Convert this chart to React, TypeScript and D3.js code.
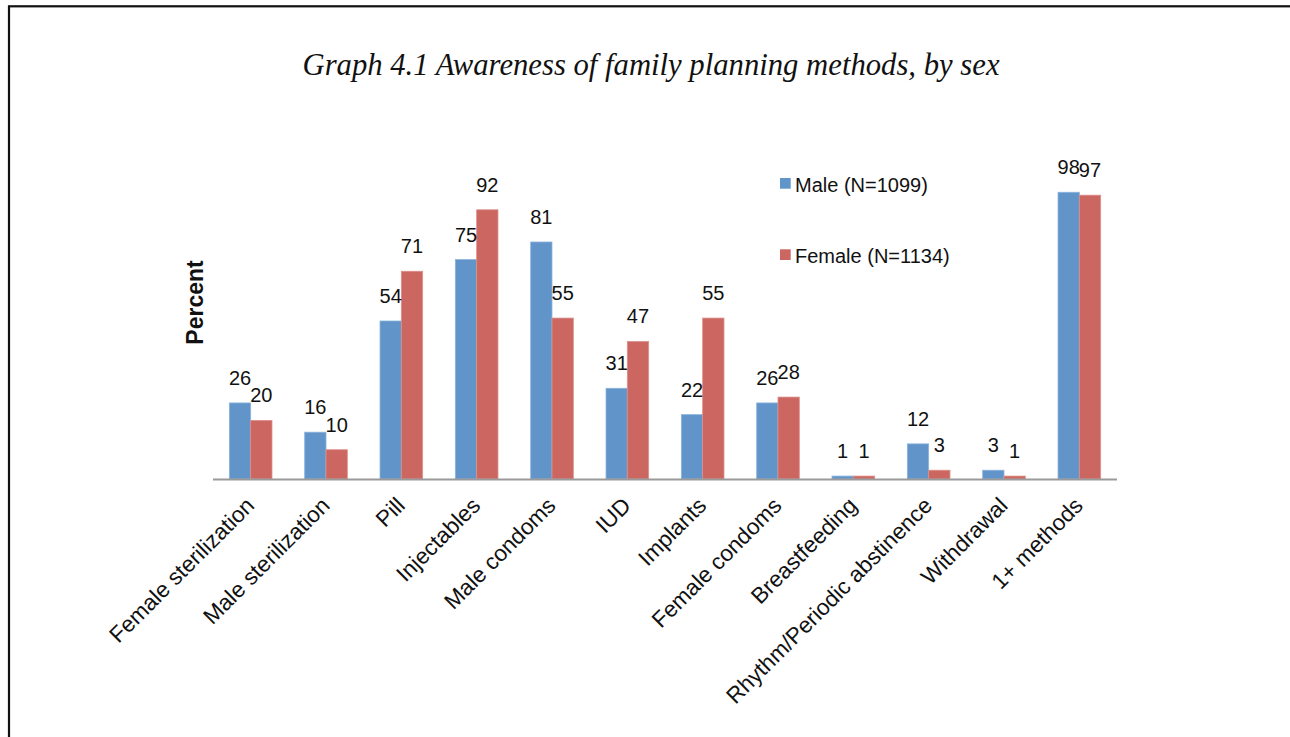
import React from "react";
import * as d3 from "d3";

const categories = [
  "Female sterilization",
  "Male sterilization",
  "Pill",
  "Injectables",
  "Male condoms",
  "IUD",
  "Implants",
  "Female condoms",
  "Breastfeeding",
  "Rhythm/Periodic abstinence",
  "Withdrawal",
  "1+ methods",
];
const maleValues = [26, 16, 54, 75, 81, 31, 22, 26, 1, 12, 3, 98];
const femaleValues = [20, 10, 71, 92, 55, 47, 55, 28, 1, 3, 1, 97];
const seriesNames = ["Male (N=1099)", "Female (N=1134)"];
const seriesColors = ["#6195C9", "#CC6660"];
const seriesStrokes = ["#8DB3DD", "#DC8F8A"];

const W = 1290;
const H = 737;
const AX_LEFT = 213;
const AX_RIGHT = 1117;
const BASE_Y = 479;
const TOP_Y = 186.4;

export default function App() {
  const x = d3
    .scaleBand<string>()
    .domain(categories)
    .range([AX_LEFT, AX_RIGHT])
    .paddingInner(0.434)
    .paddingOuter(0.217);
  const x1 = d3
    .scaleBand<number>()
    .domain([0, 1])
    .range([0, x.bandwidth()]);
  const y = d3.scaleLinear().domain([0, 100]).range([BASE_Y, TOP_Y]);
  const series = [maleValues, femaleValues];
  const font = "Arial, 'Liberation Sans', Helvetica, sans-serif";

  return (
    <svg
      width={W}
      height={H}
      style={{ position: "absolute", left: 0, top: 0, background: "#fff" }}
    >
      <rect x={0} y={0} width={W} height={H} fill="#fff" />
      <rect
        x={9}
        y={6.3}
        width={1400}
        height={1000}
        fill="none"
        stroke="#111"
        strokeWidth={2.2}
      />
      <text
        x={651}
        y={75}
        textAnchor="middle"
        fontFamily="'Liberation Serif', 'Times New Roman', serif"
        fontStyle="italic"
        fontSize={31}
        fill="#111"
        textLength={697}
        lengthAdjust="spacingAndGlyphs"
      >
        Graph 4.1 Awareness of family planning methods, by sex
      </text>

      {series.map((vals, si) =>
        vals.map((v, i) => {
          const bx = (x(categories[i]) as number) + (x1(si) as number);
          const bw = x1.bandwidth();
          return (
            <rect
              key={`b-${si}-${i}`}
              x={bx}
              y={y(v)}
              width={bw}
              height={BASE_Y - y(v)}
              fill={seriesColors[si]}
              stroke={seriesStrokes[si]}
              strokeWidth={0.8}
            />
          );
        })
      )}

      <line
        x1={AX_LEFT}
        x2={AX_RIGHT}
        y1={BASE_Y + 0.5}
        y2={BASE_Y + 0.5}
        stroke="#9a9a9a"
        strokeWidth={2}
      />

      {series.map((vals, si) =>
        vals.map((v, i) => {
          const cx =
            (x(categories[i]) as number) + (x1(si) as number) + x1.bandwidth() / 2;
          return (
            <text
              key={`l-${si}-${i}`}
              x={cx}
              y={y(v) - 18}
              textAnchor="middle"
              fontFamily={font}
              fontSize={20}
              fill="#111"
            >
              {v}
            </text>
          );
        })
      )}

      {categories.map((c) => {
        const cx = (x(c) as number) + x.bandwidth() / 2;
        const ax = cx + 5;
        const ay = BASE_Y + 28;
        return (
          <text
            key={`c-${c}`}
            x={ax}
            y={ay}
            textAnchor="end"
            transform={`rotate(-45 ${ax} ${ay})`}
            fontFamily={font}
            fontSize={22.5}
            fill="#111"
          >
            {c}
          </text>
        );
      })}

      <text
        x={0}
        y={0}
        transform={`translate(203 302.5) rotate(-90)`}
        textAnchor="middle"
        fontFamily={font}
        fontWeight="bold"
        fontSize={23}
        fill="#111"
      >
        Percent
      </text>

      {seriesNames.map((n, si) => (
        <g key={`lg-${si}`} transform={`translate(780 ${178 + si * 71.3})`}>
          <rect x={0} y={0} width={10.7} height={10.7} fill={seriesColors[si]} />
          <text
            x={15}
            y={13.7}
            fontFamily={font}
            fontSize={20}
            fill="#111"
          >
            {n}
          </text>
        </g>
      ))}
    </svg>
  );
}
